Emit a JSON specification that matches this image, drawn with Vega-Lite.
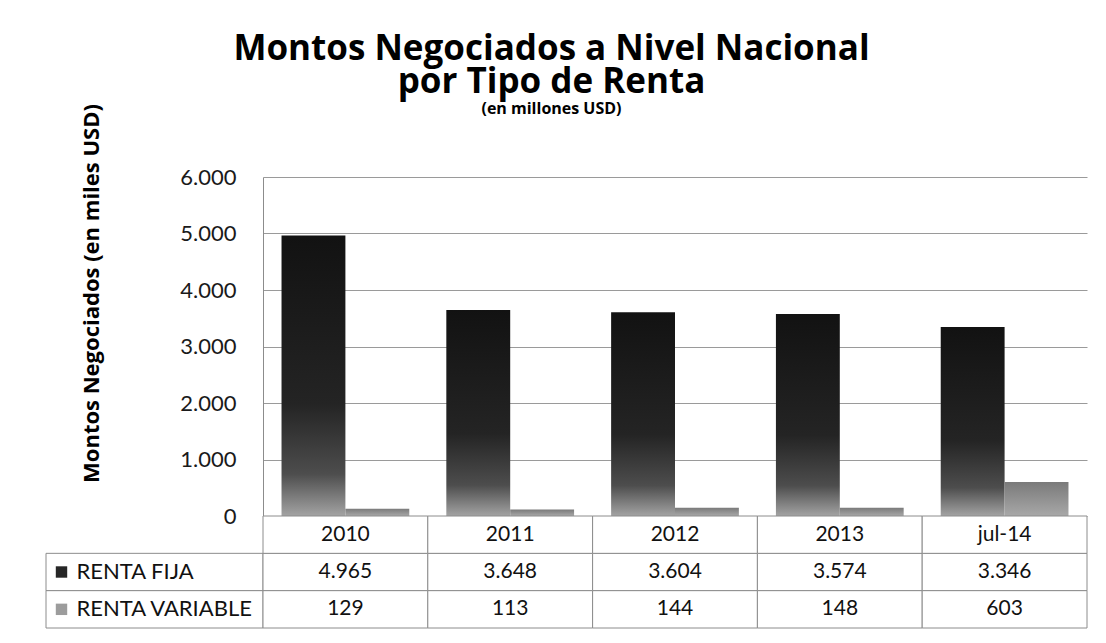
{
  "$schema": "https://vega.github.io/schema/vega-lite/v6.json",
  "padding": {"left": 45, "top": 31, "right": 5, "bottom": 5},
  "background": "white",
  "config": {
    "font": "Lato",
    "view": {"stroke": null},
    "locale": {"number": {"decimal": ",", "thousands": ".", "grouping": [3], "currency": ["$", ""]}}
  },
  "datasets": {
    "montos": [
      {"cat": "2010", "serie": "RENTA FIJA", "valor": 4965},
      {"cat": "2011", "serie": "RENTA FIJA", "valor": 3648},
      {"cat": "2012", "serie": "RENTA FIJA", "valor": 3604},
      {"cat": "2013", "serie": "RENTA FIJA", "valor": 3574},
      {"cat": "jul-14", "serie": "RENTA FIJA", "valor": 3346},
      {"cat": "2010", "serie": "RENTA VARIABLE", "valor": 129},
      {"cat": "2011", "serie": "RENTA VARIABLE", "valor": 113},
      {"cat": "2012", "serie": "RENTA VARIABLE", "valor": 144},
      {"cat": "2013", "serie": "RENTA VARIABLE", "valor": 148},
      {"cat": "jul-14", "serie": "RENTA VARIABLE", "valor": 603}
    ],
    "series": [{"serie": "RENTA FIJA"}, {"serie": "RENTA VARIABLE"}],
    "blank": [{"t": ""}]
  },
  "title": {
    "text": ["Montos Negociados a Nivel Nacional", "por Tipo de Renta"],
    "subtitle": "(en millones USD)",
    "font": "Open Sans",
    "fontSize": 35,
    "fontWeight": "bold",
    "lineHeight": 33,
    "color": "#000000",
    "subtitleFont": "Open Sans",
    "subtitleFontSize": 16,
    "subtitleFontWeight": "bold",
    "subtitleColor": "#000000",
    "subtitlePadding": 1,
    "anchor": "middle",
    "dx": -15,
    "offset": -13
  },
  "columns": 2,
  "spacing": 0,
  "bounds": "flush",
  "resolve": {"scale": {"x": "independent", "y": "independent", "color": "independent"}},
  "concat": [
    {
      "width": 217,
      "height": 339,
      "data": {"name": "blank"},
      "mark": {"type": "text"},
      "encoding": {"text": {"field": "t"}}
    },
    {
      "width": 824,
      "height": 339,
      "data": {"name": "montos"},
      "encoding": {
        "x": {"field": "cat", "type": "nominal", "sort": ["2010", "2011", "2012", "2013", "jul-14"], "scale": {"paddingInner": 0, "paddingOuter": 0}, "axis": null},
        "xOffset": {"field": "serie", "type": "nominal", "sort": ["RENTA FIJA", "RENTA VARIABLE"], "scale": {"paddingInner": 0, "paddingOuter": 0.29}},
        "y": {
          "field": "valor",
          "type": "quantitative",
          "scale": {"domain": [0, 6000], "nice": false},
          "axis": {
            "title": "Montos Negociados (en miles USD)",
            "titleFont": "Open Sans",
            "titleFontSize": 22,
            "titleFontWeight": "bold",
            "titleColor": "#000000",
            "titleAngle": -90,
            "titleX": -172,
            "titleY": 116,
            "titleAlign": "center",
            "titleBaseline": "middle",
            "values": [0, 1000, 2000, 3000, 4000, 5000, 6000],
            "format": ",.0f",
            "labelFontSize": 22,
            "labelColor": "#1a1a1a",
            "labelPadding": 27,
            "ticks": false,
            "tickSize": 0,
            "domainColor": "#8c8c8c",
            "grid": true,
            "gridColor": "#9a9a9a",
            "gridWidth": 1
          }
        }
      },
      "layer": [
        {
          "transform": [{"filter": "datum.serie == 'RENTA FIJA'"}],
          "mark": {
            "type": "bar",
            "color": {
              "gradient": "linear", "x1": 0, "y1": 0, "x2": 0, "y2": 1,
              "stops": [
                {"offset": 0, "color": "#121212"},
                {"offset": 0.6, "color": "#242424"},
                {"offset": 0.85, "color": "#4d4d4d"},
                {"offset": 1, "color": "#a3a3a3"}
              ]
            }
          }
        },
        {
          "transform": [{"filter": "datum.serie == 'RENTA VARIABLE'"}],
          "mark": {
            "type": "bar",
            "color": {
              "gradient": "linear", "x1": 0, "y1": 0, "x2": 0, "y2": 1,
              "stops": [
                {"offset": 0, "color": "#7a7a7a"},
                {"offset": 1, "color": "#a8a8a8"}
              ]
            }
          }
        }
      ]
    },
    {
      "width": 217,
      "height": 112,
      "data": {"name": "series"},
      "encoding": {
        "y": {"field": "serie", "type": "nominal", "scale": {"domain": ["cat", "RENTA FIJA", "RENTA VARIABLE"], "paddingInner": 0, "paddingOuter": 0}, "axis": null},
        "x": {"datum": "lbl", "type": "nominal", "scale": {"paddingInner": 0, "paddingOuter": 0}, "axis": null}
      },
      "layer": [
        {"mark": {"type": "rect", "fill": "white", "stroke": "#8c8c8c", "strokeWidth": 1}},
        {
          "mark": {"type": "point", "shape": "square", "filled": true, "size": 130, "opacity": 1, "xOffset": -93},
          "encoding": {"color": {"field": "serie", "type": "nominal", "scale": {"domain": ["RENTA FIJA", "RENTA VARIABLE"], "range": ["#262626", "#9c9c9c"]}, "legend": null}}
        },
        {
          "mark": {"type": "text", "align": "left", "dx": -78, "fontSize": 22, "color": "#111111"},
          "encoding": {"text": {"field": "serie"}}
        }
      ]
    },
    {
      "width": 824,
      "height": 112,
      "data": {"name": "montos"},
      "encoding": {
        "x": {"field": "cat", "type": "nominal", "sort": ["2010", "2011", "2012", "2013", "jul-14"], "scale": {"paddingInner": 0, "paddingOuter": 0}, "axis": null}
      },
      "layer": [
        {
          "mark": {"type": "rect", "fill": "white", "stroke": "#8c8c8c", "strokeWidth": 1},
          "encoding": {"y": {"field": "serie", "type": "nominal", "scale": {"domain": ["cat", "RENTA FIJA", "RENTA VARIABLE"], "paddingInner": 0, "paddingOuter": 0}, "axis": null}}
        },
        {
          "transform": [{"filter": "datum.serie == 'RENTA FIJA'"}],
          "mark": {"type": "rect", "fill": "white", "stroke": "#8c8c8c", "strokeWidth": 1},
          "encoding": {"y": {"datum": "cat", "type": "nominal", "scale": {"domain": ["cat", "RENTA FIJA", "RENTA VARIABLE"], "paddingInner": 0, "paddingOuter": 0}, "axis": null}}
        },
        {
          "mark": {"type": "text", "fontSize": 21, "color": "#111111"},
          "encoding": {
            "y": {"field": "serie", "type": "nominal", "scale": {"domain": ["cat", "RENTA FIJA", "RENTA VARIABLE"], "paddingInner": 0, "paddingOuter": 0}, "axis": null},
            "text": {"field": "valor", "type": "quantitative", "format": ",.0f"}
          }
        },
        {
          "transform": [{"filter": "datum.serie == 'RENTA FIJA'"}],
          "mark": {"type": "text", "fontSize": 21, "color": "#111111"},
          "encoding": {
            "y": {"datum": "cat", "type": "nominal", "scale": {"domain": ["cat", "RENTA FIJA", "RENTA VARIABLE"], "paddingInner": 0, "paddingOuter": 0}, "axis": null},
            "text": {"field": "cat"}
          }
        }
      ]
    }
  ]
}
